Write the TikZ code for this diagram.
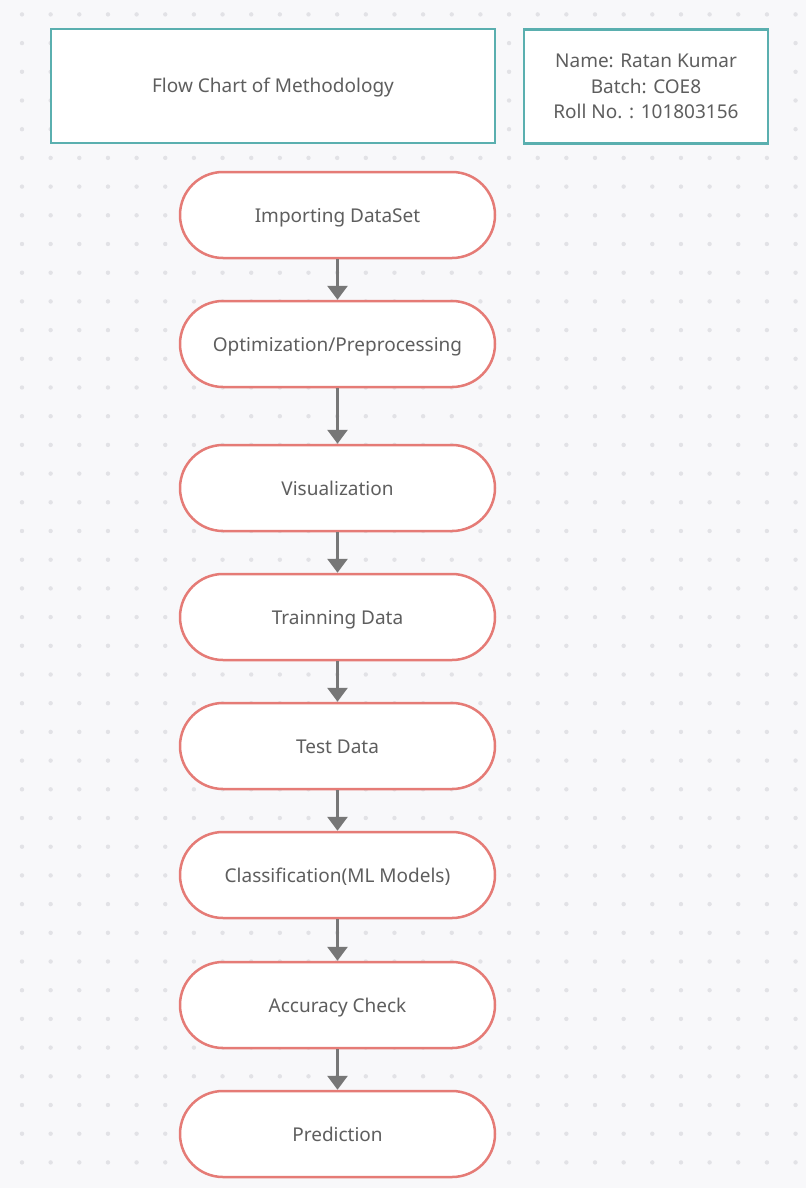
\documentclass[tikz,border=0pt]{standalone}
\usepackage{fontspec}
\setmainfont{Noto Sans}
\usepackage{tikz}
\usetikzlibrary{arrows.meta,positioning}
\definecolor{bgcol}{HTML}{F8F8FA}
\definecolor{dotcol}{HTML}{E2E2E6}
\definecolor{tealcol}{HTML}{5AAFAF}
\definecolor{salmon}{HTML}{E57B76}
\definecolor{txtcol}{HTML}{5E5E5E}
\definecolor{arrcol}{HTML}{777777}

\begin{document}
\begin{tikzpicture}[x=1pt,y=-1pt,
		headbox/.style={draw=tealcol,line width=2.5pt,fill=white,text=txtcol,font=\fontsize{19}{25.5}\selectfont,align=center,inner sep=0pt},
		pill/.style={draw=salmon,line width=2.5pt,fill=white,text=txtcol,font=\fontsize{19}{22}\selectfont,text height=14pt,text depth=0pt,minimum width=315pt,minimum height=86pt,rounded corners=43pt,inner sep=0pt},
		flow/.style={draw=arrcol,line width=3pt,-{Triangle[width=20pt,length=14pt]}}]
		\useasboundingbox (0,0) rectangle (806,1188);
		\fill[bgcol] (0,0) rectangle (806,1188);
		\foreach \i in {0,...,27}
			\foreach \j in {0,...,40}
				\fill[dotcol] (22+28.65*\i,14.4+28.7*\j) circle (2.2pt);

		\node[headbox,text height=14pt,text depth=0pt,minimum width=444pt,minimum height=114pt] (title) at (273,86) {Flow Chart of Methodology};
		\node[headbox,minimum width=244pt,minimum height=114pt] (info) at (646,86.5) {Name: Ratan Kumar\\Batch: COE8\\Roll No. : 101803156};

		\node[pill] (import) at (337.5,215) {Importing DataSet};
		\node[pill] (optim) at (337.5,344) {Optimization/Preprocessing};
		\node[pill] (visual) at (337.5,488) {Visualization};
		\node[pill] (train) at (337.5,617) {Trainning Data};
		\node[pill] (test) at (337.5,746) {Test Data};
		\node[pill] (classif) at (337.5,875) {Classification(ML Models)};
		\node[pill] (accur) at (337.5,1005) {Accuracy Check};
		\node[pill] (predict) at (337.5,1134) {Prediction};

		\draw[flow] (import) -- (optim);
		\draw[flow] (optim) -- (visual);
		\draw[flow] (visual) -- (train);
		\draw[flow] (train) -- (test);
		\draw[flow] (test) -- (classif);
		\draw[flow] (classif) -- (accur);
		\draw[flow] (accur) -- (predict);
	\end{tikzpicture}
\end{document}
